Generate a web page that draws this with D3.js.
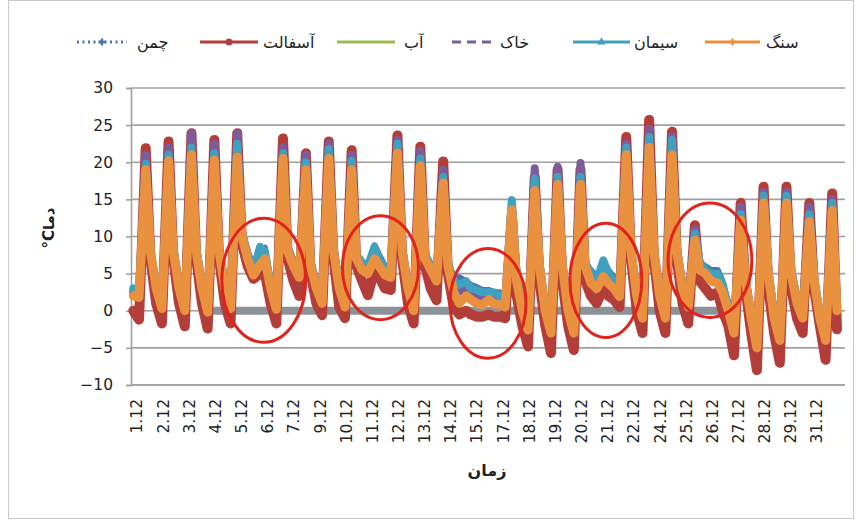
<!DOCTYPE html>
<html>
<head>
<meta charset="utf-8">
<script src="https://cdn.jsdelivr.net/npm/d3@7"></script>
<style>
body { margin: 0; background: #fff; }
svg { display: block; }
text { font-family: "DejaVu Sans", sans-serif; fill: #222; }
</style>
</head>
<body>
<div id="chart"></div>
<script>
// x tick labels (Excel category labels, evenly spaced)
var tickLabels = ["1.12","2.12","3.12","4.12","5.12","6.12","7.12","9.12","10.12","11.12","12.12","13.12","14.12","15.12",
    "17.12","18.12","19.12","20.12","21.12","22.12","24.12","25.12","26.12","27.12","28.12","29.12","31.12"];
var yTicks = [-10, -5, 0, 5, 10, 15, 20, 25, 30];

// readings per day, at these hours
var sampleHours = [0, 6, 13, 18];

// grass - چمن
var grass = [[3,3,17,8],[3.5,1.5,18,8],[3.5,1.5,19,8],[3.5,1.5,18.5,8],[3.5,1.5,19,10],[8,6,8.2,8.5],[3.5,1.5,19,8],
    [6.5,5.5,17.5,6.5],[3.5,2,19,8],[3.5,1.5,17.5,7.5],[6.5,6,8.8,7.5],[6,5.5,19.5,8],[3.5,1.5,17.5,7.5],[6,5,16,6.5],
    [4.5,4.5,4,3.5],[3.2,2.8,2.8,2.5],[2.5,2,12.5,5],[1,-1,15,6],[1,-1.5,15.5,6],[1,-1.5,15.5,6],[5.5,4.5,6.8,5.5],
    [4.5,3,19,8],[3,0.5,20,8],[3,0.5,19.5,8],[4,2,9,6.5],[6,5.5,5.5,4],[1,-1.5,11.5,4.5],[0,-3.5,13.5,5],[0,-3,13.5,5],
    [2,0,11.5,4.5],[0,-3,12.5,0.5]];

// asphalt - آسفالت
var asphalt = [[0,-1.2,21.9,7],[1,-1.7,22.8,7],[1,-2.1,23.9,7],[1,-2.4,23,7],[1,-1.7,23.9,9],[6,4.3,5,5],[1,-1.7,23.2,7],
    [4,2,21.2,5],[1,-0.6,22.8,7],[0.5,-1,21.6,6],[4,2.1,5.5,4.5],[3,2.8,23.6,7],[1,-1.7,22.1,6],[3,1.4,20.1,5],
    [0.5,-0.5,0,-0.5],[-0.8,-0.8,-0.5,-0.8],[-0.8,-1,13,2],[-2,-4.8,18,4],[-2,-5.7,19,4],[-2,-5.3,19,4],[2,1,3,2],
    [1.5,0.5,23.4,7],[0,-3,25.7,7],[0,-3,24.1,7],[1,-1.7,11.5,4],[3,2,2.5,0],[-2,-6,14.5,3],[-3,-8,16.7,3],[-3,-7,16.7,3],
    [-1,-3,14.5,3],[-2,-6.6,15.8,-2.5]];

// water - آب
var water = [[null,null,null,null],[null,null,null,null],[null,null,null,null],[null,null,0,0],[0,0,0,0],[0,0,0,0],[0,0,0,0],
    [0,0,0,0],[0,0,0,0],[0,0,0,0],[0,0,0,0],[0,0,0,0],[0,0,0,0],[0,0,0,0],[0,0,0,0],[0,0,0,0],[0,0,0,0],[0,0,0,0],
    [0,0,0,0],[0,0,0,0],[0,0,0,0],[0,0,0,0],[0,0,0,0],[0,0,0,0],[0,0,0,0],[0,0,0,0],[null,null,null,null],
    [null,null,null,null],[null,null,null,null],[null,null,null,null],[null,null,null,null]];

// soil - خاک
var soil = [[2.5,2,21,8],[3.5,0.8,22,8.5],[3.5,0.5,23.9,8.5],[3.5,0.3,22.5,8.5],[3.5,0.8,23.9,10.5],[7.5,5.5,7.5,7.5],
    [3.5,0.7,22,8.5],[6.5,5,21,6.5],[3.5,1.5,22.5,8.5],[3.5,1,21,7.5],[6,5.5,7.5,6.5],[5.5,5,23,8.5],[3.5,0.5,21.5,7.5],
    [6,4.5,19,6.5],[3.5,2.5,3,2.5],[2,1.8,2,1.8],[1.5,1,14,5],[0.5,-2,19.2,6.5],[0.5,-2.5,19.4,6.5],[0.5,-2.5,19.9,6.5],
    [4.5,3.5,6,4.5],[3.5,2.5,22.5,8.5],[2.5,-0.5,24.5,8.5],[2.5,-0.5,23.5,8.5],[3.5,1,11,6.5],[5.5,4.5,4.5,3],
    [0.5,-2.5,14,4.5],[-0.5,-4.5,16,5.5],[-0.5,-3.5,16,5.5],[1.5,-0.5,14,4.5],[-0.5,-3.5,15,0.5]];

// cement - سیمان
var cement = [[3,2.5,19.8,8],[3.5,0.5,21,8.5],[3.5,0.3,22,8.5],[3.5,0.3,21.2,8.5],[3.5,0.8,22.5,10.5],[7.5,5.5,8.6,8],
    [3.5,0.5,21.2,8.5],[6.5,5,20,6.5],[3.5,1.5,21.8,8.5],[3.5,1,20.2,7.5],[6.5,6,8.6,7],[5.5,5,22.5,8.5],[3.5,0.5,20.5,7.5],
    [6,4.5,18,6.5],[4,3.5,4,3],[2.8,2.5,2.5,2.5],[2,1,14.9,5],[0.5,-2,17.8,6.5],[0.5,-2.5,18,6.5],[0.5,-2.5,18,6.5],
    [5,4,6.8,5],[4,2.5,22,8.5],[2.5,-0.5,23.4,8.5],[2.5,-0.5,23,8.5],[3.5,1,10.4,6.5],[5.5,5,5,3.5],[0.5,-2.5,13,4.5],
    [-0.5,-4.5,15.5,5.5],[-0.5,-3.5,15.5,5.5],[1.5,-0.5,13,4.5],[-0.5,-3.5,14.5,0.5]];

// rock - سنگ
var rock = [[2,1.8,19,8],[3,0.3,20.2,8],[3,0,21,8],[3,-0.2,20.3,8],[3,0.3,20.7,10],[7,4.8,6.2,7],[3,0.2,20.5,8],
    [6,4.5,19,6],[3,1,20.5,8],[3,0.5,19,7],[5.5,5,7,6],[4.8,4.5,21.2,8],[3,0,19.5,7],[5.5,4,17.2,6],[2.5,1,2,1.5],
    [1,0.8,1.5,1],[0.8,0.5,13.6,4],[0,-2.6,16.2,6],[0,-3,17,6],[0,-3,17,6],[3.7,3,4.6,3.7],[3,1.9,21,8],[2,-1,22,8],
    [2,-1,21,8],[3,0.5,9.5,5.5],[5,4,3.7,2.5],[0,-3,12.2,4],[-1,-5,14.5,5],[-1,-4,14.5,5],[1,-1,12,4],[-1,-4,13.5,0]];

// red ellipses drawn on the chart: centre (day, degC) and radii (days, degC)
var marks = [[5.7, 4.1, 1.83, 8.35], [10.8, 5.8, 1.66, 7.0], [15.5, 1.0, 1.66, 7.4], [20.65, 4.1, 1.57, 7.7], [25.2, 6.8, 1.83, 7.7]];

function init() {
    var w = 856, h = 520;
    var svg = d3.select("#chart").append("svg").attr("width", w).attr("height", h);

    var x = d3.scaleLinear().domain([-0.1, 31.1]).range([131, 845]);
    var y = d3.scaleLinear().domain([-10, 30]).range([385, 88]);
    var xLab = d3.scalePoint().domain(tickLabels).range([137, 817]);

    // chart frame
    svg.append("rect").attr("x", 8.5).attr("y", 0.5).attr("width", 845).attr("height", 518)
        .attr("fill", "none").attr("stroke", "#c8c8c8");

    // grid
    svg.append("g").selectAll("line").data(yTicks).enter().append("line")
        .attr("x1", 131).attr("x2", 845)
        .attr("y1", function(d) { return y(d); }).attr("y2", function(d) { return y(d); })
        .attr("stroke", "#a0a0a0").attr("stroke-width", 1.6);

    var yAxis = svg.append("g").attr("transform", "translate(131,0)")
        .call(d3.axisLeft(y).tickValues(yTicks).tickSize(5).tickPadding(13));
    yAxis.select(".domain").attr("stroke", "#a0a0a0").attr("stroke-width", 1.6);
    yAxis.selectAll(".tick line").attr("stroke", "#a0a0a0").attr("stroke-width", 1.6);
    yAxis.selectAll("text").style("font-family", "DejaVu Sans").style("font-size", "15.5px").attr("fill", "#222");

    svg.append("line").attr("x1", 131).attr("x2", 845).attr("y1", y(-10)).attr("y2", y(-10))
        .attr("stroke", "#a0a0a0").attr("stroke-width", 1.6);

    svg.append("g").selectAll("text").data(tickLabels).enter().append("text")
        .attr("transform", function(d) { return "translate(" + xLab(d) + ",399) rotate(-90)"; })
        .attr("text-anchor", "end").attr("dy", "0.35em")
        .style("font-size", "15.5px").text(function(d) { return d; });

    // series
    var series = [
        { name: "چمن", data: grass, color: "#4a72b5", width: 6, legend: "dot" },
        { name: "آسفالت", data: asphalt, color: "#b33d39", width: 10, legend: "circle" },
        { name: "آب", data: water, color: "#8c9398", width: 8, legendColor: "#9bbb59", legend: "plain" },
        { name: "خاک", data: soil, color: "#7d5c9c", width: 8, legend: "dash" },
        { name: "سیمان", data: cement, color: "#3fa0bf", width: 8, legend: "triangle" },
        { name: "سنگ", data: rock, color: "#ea9140", width: 9, legend: "plus" }
    ];

    function points(days) {
        var out = [];
        days.forEach(function(day, i) {
            day.forEach(function(v, k) { out.push({ t: i + sampleHours[k] / 24, v: v }); });
        });
        return out;
    }

    var line = d3.line()
        .defined(function(d) { return d.v != null; })
        .x(function(d) { return x(d.t); })
        .y(function(d) { return y(d.v); });

    var order = [2, 0, 1, 3, 4, 5];
    svg.append("g").selectAll("path").data(order.map(function(i) { return series[i]; })).enter().append("path")
        .attr("d", function(s) { return line(points(s.data)); })
        .attr("fill", "none")
        .attr("stroke", function(s) { return s.color; })
        .attr("stroke-width", function(s) { return s.width; })
        .attr("stroke-linejoin", "round").attr("stroke-linecap", "round");

    // red ellipses
    svg.append("g").selectAll("ellipse").data(marks).enter().append("ellipse")
        .attr("cx", function(d) { return x(d[0]); })
        .attr("cy", function(d) { return y(d[1]); })
        .attr("rx", function(d) { return x(d[2]) - x(0); })
        .attr("ry", function(d) { return y(0) - y(d[3]); })
        .attr("fill", "none").attr("stroke", "#e0231d").attr("stroke-width", 3);

    // axis titles
    svg.append("text").attr("transform", "translate(49,228) rotate(-90)")
        .attr("text-anchor", "middle").attr("dy", "0.35em").style("font-size", "15px").style("font-weight", "bold")
        .text("°Cدما");
    svg.append("text").attr("x", 487).attr("y", 476)
        .attr("text-anchor", "middle").style("font-size", "16px").style("font-weight", "bold")
        .text("زمان");

    // legend: key line start, key length, text start
    var legendPos = [[77, 50, 137], [200, 58, 263], [337, 58, 404], [452, 42, 500], [573, 57, 634], [705, 55, 766]];
    var ly = 42;
    series.forEach(function(s, i) {
        var p = legendPos[i];
        var g = svg.append("g").attr("transform", "translate(" + p[0] + "," + ly + ")");
        var c = s.legendColor || s.color;
        var ln = g.append("line").attr("x1", 0).attr("x2", p[1]).attr("y1", 0).attr("y2", 0)
            .attr("stroke", c).attr("stroke-width", 3);
        if (s.legend == "dot") ln.attr("stroke-dasharray", "2,3.5").attr("stroke-width", 3);
        if (s.legend == "dash") ln.attr("stroke-dasharray", "9,6");
        if (s.legend == "circle") g.append("circle").attr("cx", p[1] / 2).attr("r", 3.5).attr("fill", c);
        if (s.legend == "triangle") g.append("path").attr("d", d3.symbol(d3.symbolTriangle, 30)()).attr("transform", "translate(" + p[1] / 2 + ",0)").attr("fill", c);
        if (s.legend == "plus" || s.legend == "dot") g.append("path").attr("d", d3.symbol(d3.symbolCross, 28)()).attr("transform", "translate(" + p[1] / 2 + ",0)").attr("fill", c);
        svg.append("text").attr("x", p[2]).attr("y", ly).attr("dy", "0.35em").style("font-size", "16px").text(s.name);
    });
}

window.onload = init;
</script>
</body>
</html>
